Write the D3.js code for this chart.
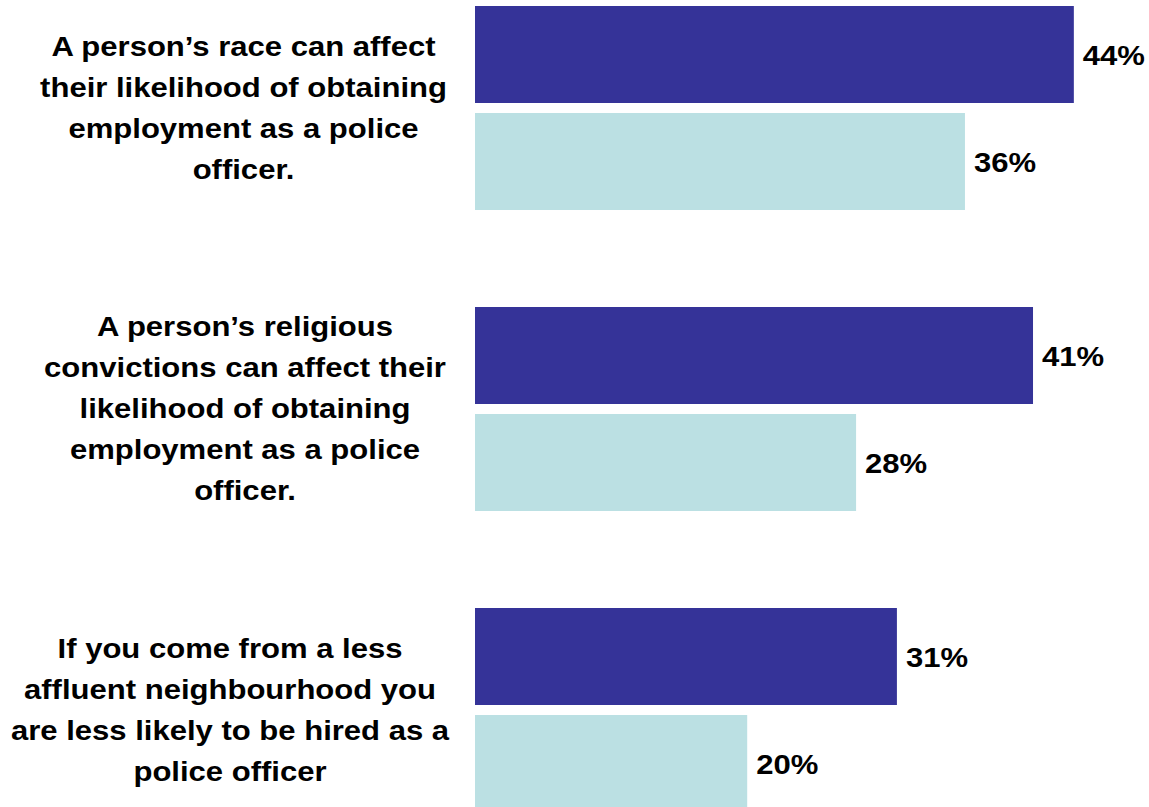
<!DOCTYPE html>
<html>
<head>
<meta charset="utf-8">
<script src="https://cdn.jsdelivr.net/npm/d3@7"></script>
</head>
<body style="margin:0; background:#fff">
<div id="chart"></div>
<script>
// statements, as they wrap in the original
var categories = [
	["A person\u2019s race can affect", "their likelihood of obtaining", "employment as a police", "officer."],
	["A person\u2019s religious", "convictions can affect their", "likelihood of obtaining", "employment as a police", "officer."],
	["If you come from a less", "affluent neighbourhood you", "are less likely to be hired as a", "police officer"]
];
var seriesNames = ["dark", "light"];
var darkValues = [44, 41, 31];
var lightValues = [36, 28, 20];
var colors = ["#353398", "#bbe0e3"];

var font = "'Liberation Sans'";
var fontSize = "27px";
var stretch = 1.15; // the original text is a bit wider than the font
var labelCenters = [243.5, 245, 230]; // text boxes are not all centred the same

var width = 1149, height = 807;
var svg = d3.select("#chart").append("svg")
	.attr("width", width)
	.attr("height", height);

var x = d3.scaleLinear().domain([0, 50]).range([475, 475 + 680.5]);
var y0 = d3.scaleBand().domain(d3.range(categories.length)).range([6, 6 + 301 * 3]);
var y1 = d3.scaleBand().domain(seriesNames).range([0, 204]).paddingInner(10 / 107);

var rows = categories.map(function (c, i) {
	return {i: i, lines: c, vals: [darkValues[i], lightValues[i]]};
});

var g = svg.selectAll("g.grp").data(rows).enter().append("g")
	.attr("class", "grp")
	.attr("transform", function (d) { return "translate(0," + y0(d.i) + ")"; });

// bars
g.selectAll("rect").data(function (d) {
	return d.vals.map(function (v, k) { return {k: k, v: v}; });
}).enter().append("rect")
	.attr("x", x(0))
	.attr("y", function (d) { return y1(seriesNames[d.k]); })
	.attr("width", function (d) { return x(d.v) - x(0); })
	.attr("height", y1.bandwidth())
	.style("fill", function (d) { return colors[d.k]; });

// value labels
g.selectAll("text.val").data(function (d) {
	return d.vals.map(function (v, k) { return {k: k, v: v}; });
}).enter().append("text")
	.attr("class", "val")
	.attr("transform", function (d) {
		return "translate(" + (x(d.v) + 9) + "," + (y1(seriesNames[d.k]) + y1.bandwidth() / 2 + 10) + ") scale(" + stretch + ",1)";
	})
	.style("font-family", font)
	.style("font-weight", "bold")
	.style("font-size", fontSize)
	.text(function (d) { return d.v + "%"; });

// category labels
var lineH = 41;
g.each(function (d) {
	var n = d.lines.length;
	var mid = 102;
	var t = d3.select(this).append("text")
		.attr("text-anchor", "middle")
		.attr("transform", "translate(" + labelCenters[d.i] + ",0) scale(" + stretch + ",1)")
		.style("font-family", font)
		.style("font-weight", "bold")
		.style("font-size", fontSize);
	d.lines.forEach(function (ln, j) {
		t.append("tspan")
			.attr("x", 0)
			.attr("y", mid - (n - 1) * lineH / 2 + 9.5 + j * lineH)
			.text(ln);
	});
});
</script>
</body>
</html>
